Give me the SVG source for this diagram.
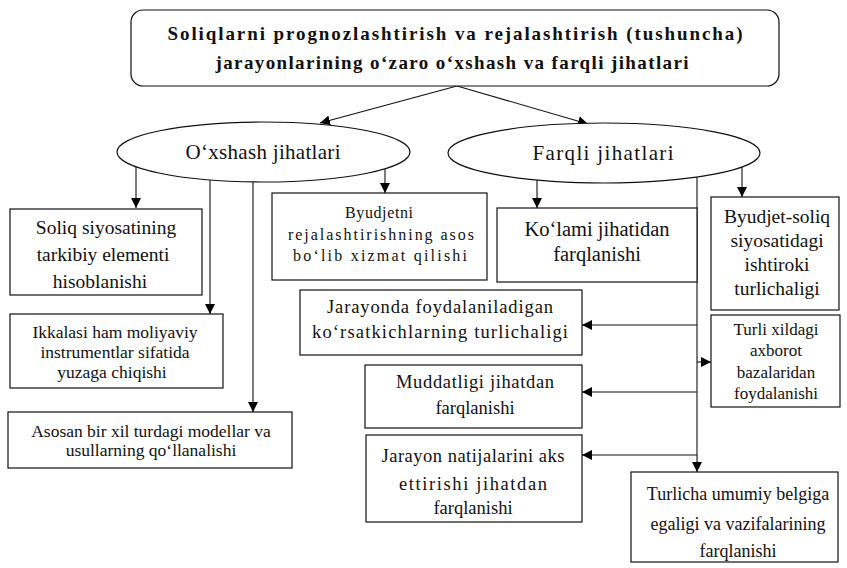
<svg xmlns="http://www.w3.org/2000/svg" width="847" height="568" viewBox="0 0 847 568">
  <defs>
    <marker id="arrow" viewBox="0 0 10 10" refX="10" refY="5" markerWidth="10" markerHeight="10" markerUnits="userSpaceOnUse" orient="auto">
      <path d="M0,0 L10,5 L0,10 z" fill="#000"/>
    </marker>
    <style>
      .box { fill: #fff; stroke: #111; stroke-width: 1.2; }
      .ell { fill: #fff; stroke: #111; stroke-width: 1.2; }
      text { font-family: 'Liberation Serif', 'DejaVu Serif', serif; fill: #111; text-anchor: middle; }
      .title { font-weight: bold; font-size: 19px; }
      .conn { fill: none; stroke: #111; stroke-width: 1.1; }
      .arr { marker-end: url(#arrow); }
    </style>
  </defs>
  <rect width="847" height="568" fill="#fff"/>

  <!-- connectors -->
  <g id="connectors">
    <line class="conn arr" x1="457" y1="86" x2="320" y2="123"/>
    <line class="conn arr" x1="457" y1="86" x2="588" y2="124"/>
    <!-- similarity branch -->
    <line class="conn arr" x1="136" y1="167" x2="136" y2="208"/>
    <line class="conn arr" x1="210" y1="180" x2="210" y2="314"/>
    <line class="conn arr" x1="253" y1="182" x2="253" y2="412"/>
    <line class="conn arr" x1="385" y1="169" x2="385" y2="193"/>
    <!-- difference branch -->
    <line class="conn arr" x1="537" y1="180" x2="537" y2="208"/>
    <line class="conn arr" x1="742" y1="167" x2="742" y2="197"/>
    <line class="conn arr" x1="697" y1="172" x2="697" y2="472"/>
    <line class="conn arr" x1="697" y1="325" x2="582" y2="325"/>
    <line class="conn arr" x1="697" y1="362" x2="711" y2="362"/>
    <line class="conn arr" x1="697" y1="392" x2="582" y2="392"/>
    <line class="conn arr" x1="697" y1="455" x2="582" y2="455"/>
  </g>

  <g id="root">
    <rect class="box" x="131" y="10" width="648" height="76" rx="12"/>
    <text class="title" x="455" y="40" textLength="575">Soliqlarni prognozlashtirish va rejalashtirish (tushuncha)</text>
    <text class="title" x="452" y="69" textLength="473">jarayonlarining o‘zaro o‘xshash va farqli jihatlari</text>
  </g>

  <g id="similar">
    <ellipse class="ell" cx="263.5" cy="152" rx="146.5" ry="30"/>
    <text x="263" y="159" font-size="21" textLength="155">O‘xshash jihatlari</text>
  </g>

  <g id="different">
    <ellipse class="ell" cx="604" cy="153" rx="156" ry="30"/>
    <text x="603" y="160" font-size="21" textLength="141">Farqli jihatlari</text>
  </g>

  <g id="s1" font-size="19.5">
    <rect class="box" x="10" y="209" width="192" height="86"/>
    <text x="106" y="234">Soliq siyosatining</text>
    <text x="103" y="261">tarkibiy elementi</text>
    <text x="100" y="288">hisoblanishi</text>
  </g>

  <g id="s2" font-size="17.5">
    <rect class="box" x="10" y="314" width="213" height="74"/>
    <text x="115" y="338">Ikkalasi ham moliyaviy</text>
    <text x="115" y="358">instrumentlar sifatida</text>
    <text x="112" y="378">yuzaga chiqishi</text>
  </g>

  <g id="s3" font-size="17.5">
    <rect class="box" x="8" y="412" width="284" height="56"/>
    <text x="151" y="437">Asosan bir xil turdagi modellar va</text>
    <text x="151" y="456">usullarning qo‘llanalishi</text>
  </g>

  <g id="s4" font-size="16">
    <rect class="box" x="272" y="193" width="215" height="87"/>
    <text x="379" y="218" textLength="68">Byudjetni</text>
    <text x="381" y="240" textLength="186">rejalashtirishning asos</text>
    <text x="380" y="261" textLength="174">bo‘lib xizmat qilishi</text>
  </g>

  <g id="d1" font-size="20.5">
    <rect class="box" x="497" y="208" width="200" height="74"/>
    <text x="597" y="236">Ko‘lami jihatidan</text>
    <text x="597" y="261">farqlanishi</text>
  </g>

  <g id="d2" font-size="19.5">
    <rect class="box" x="711" y="197" width="128" height="113"/>
    <text x="777" y="223">Byudjet-soliq</text>
    <text x="777" y="247">siyosatidagi</text>
    <text x="777" y="271">ishtiroki</text>
    <text x="777" y="295">turlichaligi</text>
  </g>

  <g id="d3" font-size="17">
    <rect class="box" x="711" y="315" width="129" height="92"/>
    <text x="776" y="335">Turli xildagi</text>
    <text x="776" y="356">axborot</text>
    <text x="776" y="378">bazalaridan</text>
    <text x="776" y="399">foydalanishi</text>
  </g>

  <g id="d4" font-size="18.5">
    <rect class="box" x="300" y="290" width="282" height="65"/>
    <text x="440" y="313" textLength="226">Jarayonda foydalaniladigan</text>
    <text x="440" y="338" textLength="256">ko‘rsatkichlarning turlichaligi</text>
  </g>

  <g id="d5" font-size="18.5">
    <rect class="box" x="365" y="365" width="217" height="63"/>
    <text x="475" y="388" textLength="158">Muddatligi jihatdan</text>
    <text x="475" y="414">farqlanishi</text>
  </g>

  <g id="d6" font-size="18.5">
    <rect class="box" x="366" y="435" width="216" height="87"/>
    <text x="473" y="462" textLength="183">Jarayon natijalarini aks</text>
    <text x="473" y="490" textLength="148">ettirishi jihatdan</text>
    <text x="473" y="514">farqlanishi</text>
  </g>

  <g id="d7" font-size="18">
    <rect class="box" x="631" y="472" width="207" height="90"/>
    <text x="738" y="500">Turlicha umumiy belgiga</text>
    <text x="738" y="530">egaligi va vazifalarining</text>
    <text x="738" y="557">farqlanishi</text>
  </g>
</svg>
